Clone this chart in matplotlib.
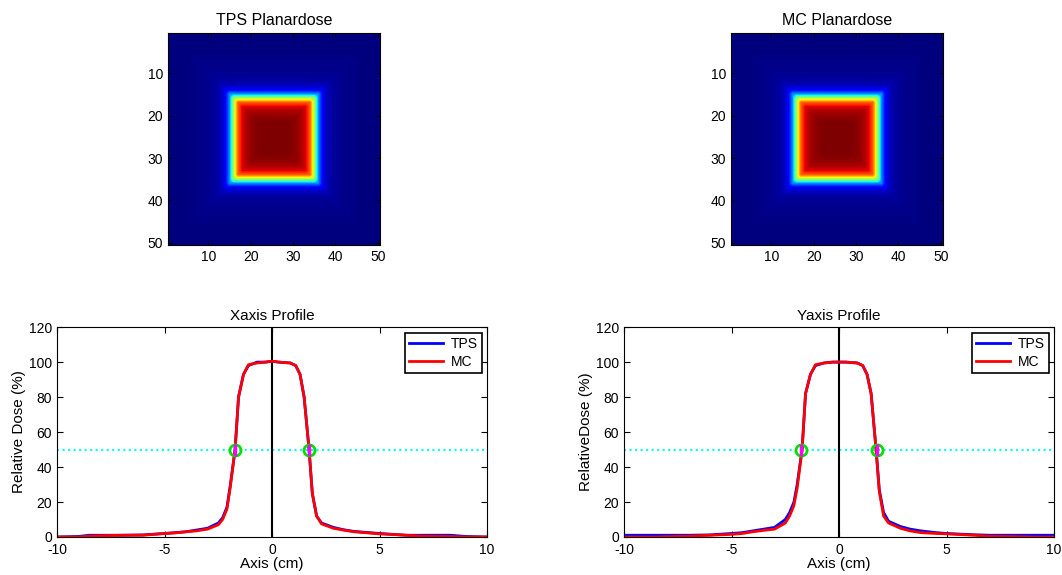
import numpy as np
import matplotlib
matplotlib.use('Agg')
import matplotlib.pyplot as plt

plt.rcParams['font.family'] = ['Liberation Sans', 'DejaVu Sans']
plt.rcParams['font.size'] = 10
plt.rcParams['axes.unicode_minus'] = False

# pixel profile of the 50x50 planar dose (percent), rows and columns
img_profile = [5, 5, 5, 5, 5, 5.5, 5.5, 6, 6, 6.5, 7, 8, 10, 15,
               30, 58, 82, 92, 96, 98,
               99, 100, 100, 100, 100, 100, 100, 100, 100, 99,
               98, 96, 92, 82, 58, 30,
               15, 10, 8, 7, 6.5, 6, 6, 5.5, 5.5, 5, 5, 5, 5, 5]

# profile positions (cm)
pos = [-10, -9, -8.5, -8, -7, -6, -5, -4.5, -4, -3.5, -3, -2.5, -2.3, -2.1,
       -1.95, -1.72, -1.56, -1.33, -1.1, -0.7, -0.3, 0, 0.3, 0.84, 1.1, 1.3,
       1.49, 1.72, 1.87, 2.07, 2.3, 2.85, 3.3, 3.8, 4.5, 5, 6.25, 7, 8.3, 9, 10]

x_tps = [0, 0.3, 1, 1, 1, 1.2, 2, 2.5, 3, 4, 5, 8, 11, 17,
         29, 50, 80, 93, 98, 100, 100, 100.5, 100, 99.5, 98, 93,
         80, 50, 25, 12, 8, 5.5, 4.2, 3.2, 2.5, 2, 1, 1, 1, 0.3, 0]
x_mc = [0, 0, 0.5, 0.7, 1, 1, 2, 2.3, 3, 3.5, 4.5, 7, 10, 16,
        28, 50, 80, 93, 98.5, 99.5, 100, 100.5, 100, 99.5, 98, 93,
        80, 50, 25, 12, 7.5, 5, 4, 3, 2.3, 1.8, 1, 0.5, 0.3, 0, 0]

y_tps = [1, 1, 1, 1, 1, 1.2, 2, 2.5, 3.5, 4.5, 5.5, 10, 14, 20,
         30, 50, 82, 93, 98, 99.5, 100, 100, 100, 99.5, 98, 93,
         82, 50, 27, 14, 9, 6, 4.5, 3.5, 2.5, 2, 1.3, 1, 1, 1, 1]
y_mc = [0, 0, 0, 0.2, 0.5, 1, 1.5, 2, 3, 3.8, 4.5, 8, 12, 18,
        28, 50, 82, 93, 98.5, 99.5, 100, 100, 100, 99.5, 98, 93,
        82, 50, 26, 12, 8, 5, 3.5, 2.5, 2, 1.8, 1, 0.5, 0.2, 0, 0]

x_half = [-1.72, 1.72]
y_half = [-1.78, 1.78]

# 2D planar dose from row/column profiles
prof = np.array(img_profile) / 100.0
dose = np.minimum(prof[:, None], prof[None, :])

fig = plt.figure(figsize=(10.62, 5.75), dpi=100)


def image_panel(rect, dose, title):
    ax = fig.add_axes(rect)
    ax.imshow(dose, cmap='jet', extent=(0.5, 50.5, 50.5, 0.5),
              interpolation='bilinear', aspect='auto')
    ax.set_xticks([10, 20, 30, 40, 50])
    ax.set_yticks([10, 20, 30, 40, 50])
    ax.tick_params(direction='in', top=True, right=True, length=3)
    ax.set_title(title, fontsize=11.5, pad=6)
    return ax


def profile_panel(rect, tps, mc, half, title, ylabel):
    ax = fig.add_axes(rect)
    ax.axhline(50, color='cyan', linestyle=':', linewidth=1.5)
    ax.axvline(0, color='black', linewidth=1.5)
    ax.plot(pos, tps, color='blue', linewidth=2, label='TPS')
    ax.plot(pos, mc, color='red', linewidth=2, label='MC')
    ax.plot(half, [50, 50], 'o', markersize=8, markerfacecolor='none',
            markeredgecolor='#00e000', markeredgewidth=2, zorder=5)
    ax.plot(half, [50, 50], '|', markersize=8, color='magenta',
            markeredgewidth=2.5, zorder=6)
    ax.set_xlim(-10, 10)
    ax.set_ylim(0, 120)
    ax.set_xticks([-10, -5, 0, 5, 10])
    ax.set_yticks([0, 20, 40, 60, 80, 100, 120])
    ax.tick_params(direction='in', top=True, right=True, length=4)
    ax.tick_params(axis='x', pad=4.5)
    ax.set_title(title, fontsize=11, pad=5)
    ax.set_xlabel('Axis (cm)', fontsize=11, labelpad=0)
    ax.set_ylabel(ylabel, fontsize=11, labelpad=2)
    leg = ax.legend(loc='upper right', fontsize=10, fancybox=False,
                    framealpha=1, edgecolor='black', borderaxespad=0.4,
                    handlelength=2.5, borderpad=0.3, labelspacing=0.3,
                    handletextpad=0.5)
    leg.get_frame().set_linewidth(1.2)
    return ax


image_panel([0.1582, 0.5739, 0.1996, 0.3687], dose, 'TPS Planardose')
image_panel([0.6883, 0.5739, 0.1996, 0.3687], dose, 'MC Planardose')
profile_panel([0.0537, 0.0661, 0.405, 0.365], x_tps, x_mc, x_half,
              'Xaxis Profile', 'Relative Dose (%)')
profile_panel([0.5876, 0.0661, 0.405, 0.365], y_tps, y_mc, y_half,
              'Yaxis Profile', 'RelativeDose (%)')

fig.savefig('out.png', dpi=100)
